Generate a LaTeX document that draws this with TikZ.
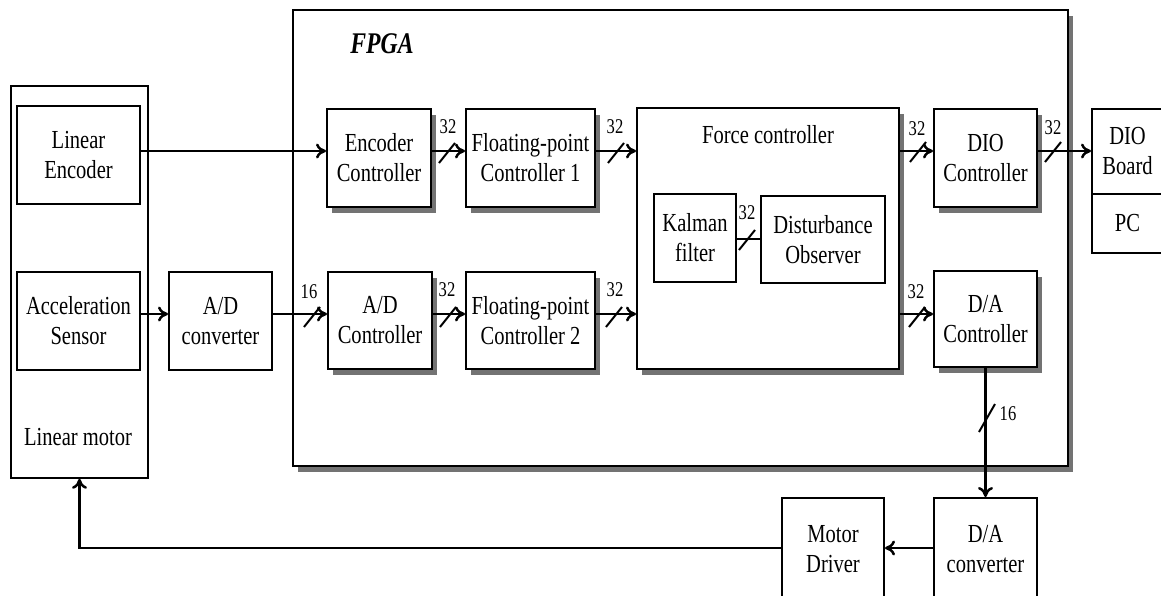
\documentclass[tikz,border=0pt]{standalone}
\usepackage{fontspec}
\setmainfont{Liberation Serif}[FakeStretch=0.79]
\usetikzlibrary{arrows.meta,shadows}

\tikzset{
  blk/.style={draw, line width=2pt, fill=white, inner sep=0pt, align=center,
              font=\fontsize{26}{30}\selectfont},
  thinblk/.style={blk, line width=1.6pt},
  shd/.style={drop shadow={shadow xshift=5pt, shadow yshift=-6pt, opacity=1, fill=black!55}},
  conn/.style={line width=2.5pt, -{To[length=10pt,width=15pt]}},
  wire/.style={line width=2.5pt},
  slash/.style={line width=2pt},
  buslbl/.style={font=\fontsize{21}{21}\selectfont, inner sep=0pt},
  lbl/.style={inner sep=0pt, font=\fontsize{26}{30}\selectfont},
}

% block given by its corners (x1,y1) (x2,y2), y measured downwards
\newcommand\mkblock[7]{%
  \node[#1, minimum width={#4-#2}, minimum height={#5-#3}] (#6)
    at ({(#2+#4)/2},{(#3+#5)/2}) {#7};}
% bus-width mark: slash centred at (#1,#2), label #5 at (#3,#4)
\newcommand\busmark[6]{%
  \draw[slash] (#1-8,#2+10) -- (#1+8,#2-10);
  \node[buslbl] (#6) at (#3,#4) {#5};}

\begin{document}
\begin{tikzpicture}[x=1pt, y=-1pt]
\useasboundingbox (0,0) rectangle (1161,595);

% rows of signal lines
\coordinate (r1) at (0,151);
\coordinate (r2) at (0,314);
\coordinate (r3) at (0,548);
\coordinate (r4) at (0,239);

% FPGA frame
\mkblock{blk,shd}{293}{10}{1068}{466}{fpga}{}
\node[inner sep=0pt, font=\fontsize{30}{30}\selectfont\bfseries\itshape] (fpgatxt) at (382,44) {FPGA};

% linear motor side
\mkblock{thinblk}{11}{86}{148}{478}{motor}{}
\node[lbl] (motortxt) at (78,437) {Linear motor};
\mkblock{blk}{17}{106}{140}{204}{enc}{Linear\\Encoder}
\mkblock{blk}{17}{272}{140}{370}{acc}{Acceleration\\Sensor}
\mkblock{blk}{169}{272}{272}{370}{adc}{A/D\\converter}

% FPGA contents
\mkblock{blk,shd}{327}{109}{431}{207}{encc}{Encoder\\Controller}
\mkblock{blk,shd}{466}{109}{595}{207}{fp1}{Floating-point\\Controller 1}
\mkblock{blk,shd}{328}{272}{432}{369}{adcc}{A/D\\Controller}
\mkblock{blk,shd}{466}{272}{595}{369}{fp2}{Floating-point\\Controller 2}
\mkblock{blk,shd}{637}{108}{899}{369}{force}{}
\node[lbl] (forcetxt) at (768,135) {Force controller};
\mkblock{thinblk}{654}{194}{736}{282}{kal}{Kalman\\filter}
\mkblock{thinblk}{761}{196}{885}{283}{dob}{Disturbance\\Observer}
\mkblock{blk,shd}{934}{109}{1037}{207}{dioc}{DIO\\Controller}
\mkblock{blk,shd}{934}{271}{1037}{367}{dac}{D/A\\Controller}

% PC side
\mkblock{blk}{1092}{109}{1163}{194}{board}{DIO\\Board}
\mkblock{blk}{1092}{194}{1163}{253}{pc}{PC}

% drive chain
\mkblock{blk}{782}{498}{884}{600}{mdrv}{Motor\\Driver}
\mkblock{blk}{934}{498}{1037}{600}{dacv}{D/A\\converter}

% connectors, upper row
\draw[conn] (enc.east |- r1) -- (encc.west |- r1);
\draw[conn] (encc.east |- r1) -- (fp1.west |- r1);
\draw[conn] (fp1.east |- r1) -- (force.west |- r1);
\draw[conn] (force.east |- r1) -- (dioc.west |- r1);
\draw[conn] (dioc.east |- r1) -- (board.west |- r1);

% connectors, lower row
\draw[conn] (acc.east |- r2) -- (adc.west |- r2);
\draw[conn] (adc.east |- r2) -- (adcc.west |- r2);
\draw[conn] (adcc.east |- r2) -- (fp2.west |- r2);
\draw[conn] (fp2.east |- r2) -- (force.west |- r2);
\draw[conn] (force.east |- r2) -- (dac.west |- r2);

% inside the force controller
\draw[wire] (kal.east |- r4) -- (dob.west |- r4);

% output path back to the motor
\draw[conn] (dac.south) -- (dacv.north);
\draw[conn] (dacv.west |- r3) -- (mdrv.east |- r3);
\draw[conn] (mdrv.west |- r3) -- (motor.south |- r3) -- (motor.south);

% bus widths
\busmark{447}{153}{448}{127}{32}{b1}
\busmark{616}{153}{615}{127}{32}{b2}
\busmark{918}{152}{917}{129}{32}{b3}
\busmark{1053}{152}{1053}{128}{32}{b4}
\busmark{312}{317}{309}{292}{16}{b5}
\busmark{448}{317}{447}{290}{32}{b6}
\busmark{614}{317}{615}{290}{32}{b7}
\busmark{917}{317}{916}{292}{32}{b8}
\busmark{747}{240}{747}{213}{32}{b9}
\draw[slash] (979,432) -- (995,404);
\node[buslbl] (b10) at (1008,414) {16};
\end{tikzpicture}
\end{document}
